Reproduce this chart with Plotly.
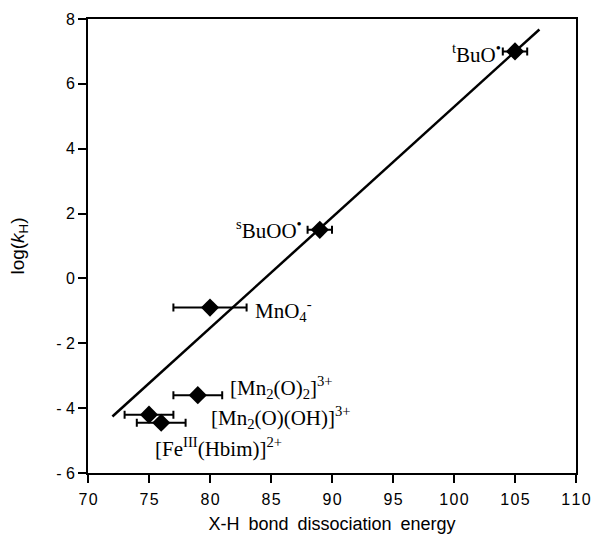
import plotly.graph_objects as go

# Oxidant data: X-H bond dissociation energy vs log(kH)
names = ["<sup>t</sup>BuO<sup>\u2022</sup>", "<sup>s</sup>BuOO<sup>\u2022</sup>",
         "MnO<sub>4</sub><sup>-</sup>", "[Mn<sub>2</sub>(O)<sub>2</sub>]<sup>3+</sup>",
         "[Mn<sub>2</sub>(O)(OH)]<sup>3+</sup>", "[Fe<sup>III</sup>(Hbim)]<sup>2+</sup>"]
bde = [105, 89, 80, 79, 75, 76]
log_kh = [7.0, 1.5, -0.9, -3.6, -4.2, -4.45]
bde_err = [1, 1, 3, 2, 2, 2]

# Label placement (data coords) and anchoring
label_x = [104.0, 87.7, 83.5, 81.5, 79.9, 75.3]
label_y = [6.95, 1.5, -1.0, -3.35, -4.3, -5.2]
label_anchor = ["right", "right", "left", "left", "left", "left"]

# Linear fit drawn across the data range
fit_slope = 0.341
fit_intercept = -28.81
fit_x = [72, 107]
fit_y = [fit_slope * v + fit_intercept for v in fit_x]

x_ticks = list(range(70, 111, 5))
y_ticks = list(range(-6, 9, 2))


def spaced(s):
    # slightly open up the digits of tick labels
    return "\u200a".join(s)


x_ticktext = [spaced(str(v)) for v in x_ticks]
y_ticktext = [("- " + str(-v)) if v < 0 else str(v) for v in y_ticks]

fig = go.Figure()
fig.add_trace(go.Scatter(x=fit_x, y=fit_y, mode="lines",
                         line=dict(color="black", width=2.5), hoverinfo="skip"))
fig.add_trace(go.Scatter(
    x=bde, y=log_kh, mode="markers",
    marker=dict(symbol="diamond", size=14, color="black"),
    error_x=dict(type="data", array=bde_err, color="black", thickness=2, width=4),
))

for t, lx, ly, anc in zip(names, label_x, label_y, label_anchor):
    fig.add_annotation(x=lx, y=ly, text=t, showarrow=False, xanchor=anc, yanchor="middle",
                       font=dict(family="Liberation Serif", size=21, color="black"))

axis_common = dict(showline=True, linecolor="black", linewidth=2, mirror=True,
                   ticks="outside", ticklen=8, tickwidth=2, tickcolor="black",
                   showgrid=False, zeroline=False, automargin=False,
                   tickfont=dict(family="Liberation Sans", size=16, color="black"))

fig.update_xaxes(range=[70, 110], tickvals=x_ticks, ticktext=x_ticktext,
                 ticklabelstandoff=3,
                 title=dict(text="X-H\u2002bond\u2002dissociation\u2002energy", standoff=10,
                            font=dict(family="Liberation Sans", size=18, color="black")),
                 **axis_common)
fig.update_yaxes(range=[-6, 8], tickvals=y_ticks, ticktext=y_ticktext,
                 title=dict(text="log(<i>k</i><sub>H</sub>)", standoff=26,
                            font=dict(family="Liberation Sans", size=19, color="black")),
                 **axis_common)

fig.update_layout(width=591, height=536, showlegend=False,
                  margin=dict(l=88, r=15, t=19, b=63),
                  plot_bgcolor="white", paper_bgcolor="white")

fig.write_html("out.html")
